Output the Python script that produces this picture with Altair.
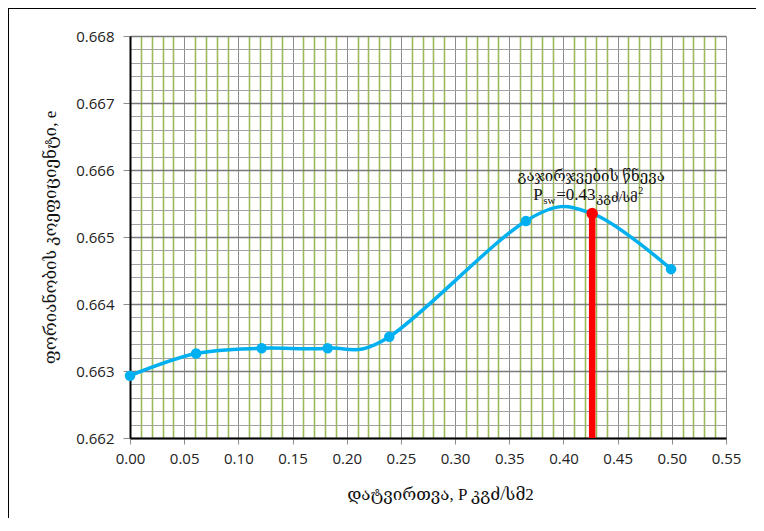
import altair as alt
import pandas as pd

# Data
load_x = [0.0, 0.061, 0.1215, 0.1824, 0.2393, 0.3654, 0.4993]
ratio_e = [0.66293, 0.66326, 0.66334, 0.66334, 0.66351, 0.66524, 0.66452]
psw_x = [0.4265]
psw_e = [0.66535]
y_min = 0.662

x_title = "დატვირთვა, P კგძ/სმ2"
y_title = "ფორიანობის  კოეფიციენტი, e"
note_line1 = "გაჯირჯვების  წნევა"
note_parts = ["P", "sw", "=0.43", "კგძ/სმ", "2"]

pts = pd.DataFrame({"x": load_x, "e": ratio_e})
red = pd.DataFrame({"x": psw_x, "e": psw_e, "e0": [y_min]})
curve = pd.concat([pts, red[["x", "e"]]]).sort_values("x").reset_index(drop=True)

SERIF = "Liberation Serif, DejaVu Serif, DejaVu Sans"
SANS = "Open Sans, DejaVu Sans"

x_vals = [round(i * 0.01, 2) for i in range(56)]
y_vals = [round(0.662 + i * 0.0002, 4) for i in range(31)]
xmaj = "round(datum.value*100) % 5 == 0"
ymaj = "round(datum.value*10000) % 10 == 0"

x_scale = alt.Scale(domain=[0, 0.55], nice=False, zero=False)
y_scale = alt.Scale(domain=[0.662, 0.668], nice=False, zero=False)

x_axis = alt.Axis(
    values=x_vals, tickCount=200,
    labelExpr=f"{xmaj} ? format(datum.value, '.2f') : ''",
    gridColor=alt.condition(xmaj, alt.value("#8c8c8c"), alt.value("#9BBB59")),
    gridWidth=alt.condition(xmaj, alt.value(1), alt.value(1.6)),
    tickOpacity=alt.condition(xmaj, alt.value(1), alt.value(0)),
    tickColor="#8c8c8c", tickSize=6, tickWidth=1,
    domainColor="black", domainWidth=2,
    labelFont=SANS, labelFontSize=15, labelColor="#222", labelPadding=7,
    labelOverlap=False, labelFlush=False, labelBound=False,
    title=x_title, titleFont=SERIF, titleFontSize=17, titleFontWeight="normal",
    titleColor="#111", titleX=310, titleY=56, titleBaseline="middle", titleAlign="center",
)
y_axis = alt.Axis(
    values=y_vals, tickCount=200,
    labelExpr=f"{ymaj} ? format(datum.value, '.3f') : ''",
    gridColor=alt.condition(ymaj, alt.value("#7a7a7a"), alt.value("#a3a3a3")),
    gridWidth=alt.condition(ymaj, alt.value(1.3), alt.value(1)),
    tickOpacity=alt.condition(ymaj, alt.value(1), alt.value(0)),
    tickColor="#8c8c8c", tickSize=7, tickWidth=1,
    domainColor="black", domainWidth=2,
    labelFont=SANS, labelFontSize=15, labelColor="#222", labelPadding=9,
    labelOverlap=False, labelFlush=False, labelBound=False,
    title=y_title, titleFont=SERIF, titleFontSize=17, titleFontWeight="normal",
    titleColor="#111", titleX=-80, titleY=201, titleAngle=-90,
    titleBaseline="middle", titleAlign="center",
)

base_grid = alt.Chart(curve).mark_line(opacity=0).encode(
    x=alt.X("x:Q", scale=x_scale, axis=x_axis),
    y=alt.Y("e:Q", scale=y_scale, axis=y_axis),
)

line = alt.Chart(curve).mark_line(
    color="#00B0F0", strokeWidth=3.5, interpolate="cardinal", tension=0
).encode(x="x:Q", y="e:Q")

dots = alt.Chart(pts).mark_circle(color="#00B0F0", size=110, opacity=1).encode(
    x="x:Q", y="e:Q"
)

bar = alt.Chart(red).mark_rule(color="#FF0000", strokeWidth=6.5).encode(
    x="x:Q", y="e:Q", y2="e0:Q"
)
red_dot = alt.Chart(red).mark_circle(color="#FF0000", size=130, opacity=1).encode(
    x="x:Q", y="e:Q"
)

def note(text, dx, dy, size, align="left"):
    return alt.Chart(red).mark_text(
        text=text, font=SERIF, fontSize=size, color="#111",
        align=align, baseline="alphabetic", dx=dx, dy=dy,
    ).encode(x="x:Q", y="e:Q")

notes = [
    note(note_line1, -1, -33, 15, "center"),
    note(note_parts[0], -59, -14, 17),
    note(note_parts[1], -49, -10, 11),
    note(note_parts[2], -36, -14, 17),
    note(note_parts[3], 4, -12, 13),
    note(note_parts[4], 46, -20, 10),
]

frame_src = alt.Data(values=[{"k": 1}])
frame_top = alt.Chart(frame_src).mark_rule(color="black", strokeWidth=2).encode(
    x=alt.value(-122), x2=alt.value(640), y=alt.value(-28)
)
frame_left = alt.Chart(frame_src).mark_rule(color="black", strokeWidth=2).encode(
    x=alt.value(-122), y=alt.value(-29), y2=alt.value(500)
)

chart = alt.layer(
    base_grid, line, dots, bar, red_dot, *notes, frame_top, frame_left
).properties(
    width=596, height=402,
    autosize=alt.AutoSizeParams(type="none"),
    padding={"left": 122, "top": 28, "right": 30, "bottom": 80},
).configure_view(stroke="#8c8c8c", strokeWidth=1.5).configure(background="white")

chart.save("out.html", embed_options={"renderer": "svg", "actions": False})
